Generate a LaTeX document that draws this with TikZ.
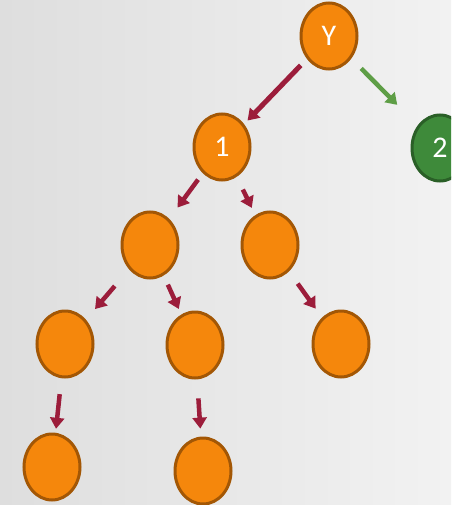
\documentclass[tikz,border=0pt]{standalone}
\usepackage{fontspec}
\setmainfont{Carlito}
\usetikzlibrary{shapes.geometric,arrows.meta}
\definecolor{bgL}{HTML}{DEDEDE}
\definecolor{bgR}{HTML}{F2F2F2}
\definecolor{orfill}{HTML}{F5870C}
\definecolor{ordraw}{HTML}{A35705}
\definecolor{grfill}{HTML}{3E8A3A}
\definecolor{grdraw}{HTML}{2A5F27}
\definecolor{redarr}{HTML}{9C1D3B}
\definecolor{grarr}{HTML}{5E9E46}
\tikzset{
  tnode/.style={ellipse,minimum width=56pt,minimum height=66pt,inner sep=0pt,
    fill=orfill,draw=ordraw,line width=3pt,text=white,font=\fontsize{30}{30}\selectfont},
  gnode/.style={tnode,fill=grfill,draw=grdraw},
  rarr/.style={draw=redarr,line width=4.5pt,-{Triangle[length=11pt,width=14pt]}},
  garr/.style={rarr,draw=grarr}
}
\begin{document}
\begin{tikzpicture}[x=1pt,y=-1pt]
\useasboundingbox (0,0) rectangle (451,505);
\clip (0,0) rectangle (451,505);
\shade[left color=bgL,right color=bgR] (0,0) rectangle (451,505);
\node[tnode] (Y) at (329,36) {Y};
\node[tnode] (n1) at (222,147) {1};
\node[gnode] (n2) at (440,148) {2};
\node[tnode] (L) at (150,245) {};
\node[tnode] (R) at (270,245) {};
\node[tnode] (LL) at (65,344) {};
\node[tnode] (LM) at (195,345) {};
\node[tnode] (RR) at (341,344) {};
\node[tnode] (LLL) at (52,467) {};
\node[tnode] (LMM) at (203,471) {};
\draw[rarr,line width=5pt,shorten <=9pt,shorten >=5pt] (Y) -- (n1);
\draw[garr,shorten <=14pt,shorten >=29pt] (Y) -- (n2);
\draw[rarr,shorten <=8pt,shorten >=14pt] (n1) -- (L);
\draw[rarr,shorten <=14pt,shorten >=8pt] (n1) -- (R);
\draw[rarr,shorten <=22pt,shorten >=14pt] (L) -- (LL);
\draw[rarr,shorten <=10pt,shorten >=6pt] (L) -- (LM);
\draw[rarr,shorten <=15pt,shorten >=11pt] (R) -- (RR);
\draw[rarr,shorten <=16pt,shorten >=4pt] (LL) -- (LLL);
\draw[rarr,shorten <=19pt,shorten >=8pt] (LM) -- (LMM);
\end{tikzpicture}
\end{document}
